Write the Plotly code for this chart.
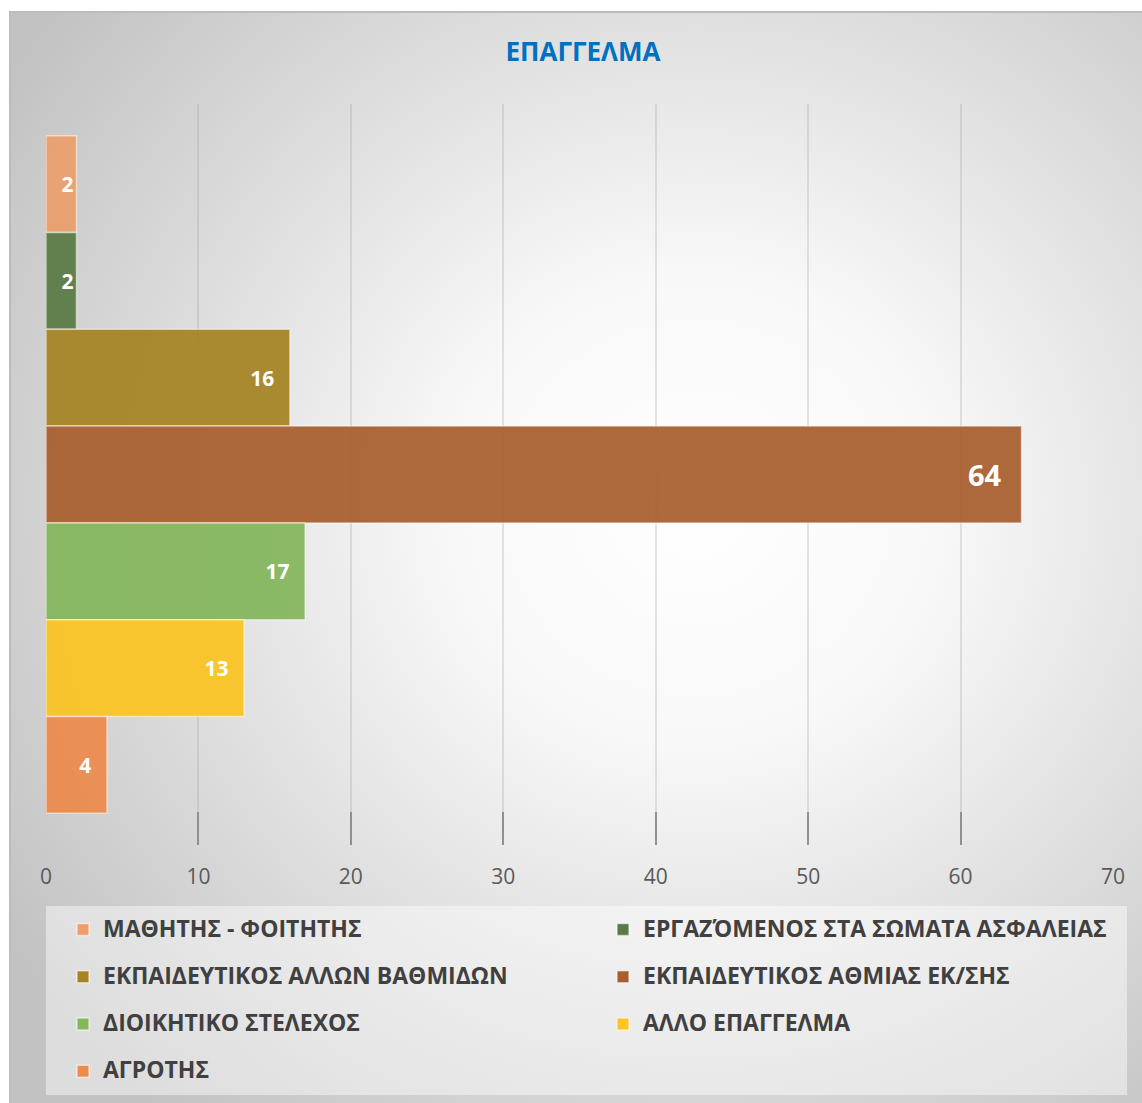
import base64
import plotly.graph_objects as go

# Occupation categories (top to bottom) and their counts
categories = [
    "ΜΑΘΗΤΗΣ - ΦΟΙΤΗΤΗΣ",
    "ΕΡΓΑΖΌΜΕΝΟΣ ΣΤΑ ΣΩΜΑΤΑ ΑΣΦΑΛΕΙΑΣ",
    "ΕΚΠΑΙΔΕΥΤΙΚΟΣ ΑΛΛΩΝ ΒΑΘΜΙΔΩΝ",
    "ΕΚΠΑΙΔΕΥΤΙΚΟΣ ΑΘΜΙΑΣ ΕΚ/ΣΗΣ",
    "ΔΙΟΙΚΗΤΙΚΟ ΣΤΕΛΕΧΟΣ",
    "ΑΛΛΟ ΕΠΑΓΓΕΛΜΑ",
    "ΑΓΡΟΤΗΣ",
]
values = [2, 2, 16, 64, 17, 13, 4]
colors = ["#EC9F6C", "#5A7A45", "#A68424", "#A85E2E", "#84B65C", "#FBC422", "#EC8B4C"]
label_sizes = [21, 21, 21, 29, 21, 21, 21]

x_ticks = [0, 10, 20, 30, 40, 50, 60, 70]
title_text = "ΕΠΑΓΓΕΛΜΑ"

W, H = 1142, 1103
ML, MR, MT, MB = 46, 0, 104, 258
PW, PH = W - ML - MR, H - MT - MB      # paper area
AXW = 1067                              # width of the value axis in px

FONT = "Open Sans"

fig = go.Figure()
for name, v, c, fs in zip(categories, values, colors, label_sizes):
    pad = "\u2002\u200a" if v > 3 else ""
    fig.add_trace(go.Bar(
        y=[0], x=[v], orientation="h",
        name=f'<span style="font-size:23px;baseline-shift:6px"><b>{name}</b></span>',
        marker=dict(color=c, opacity=0.93,
                    line=dict(color="rgba(255,255,255,0.55)", width=1.5)),
        texttemplate="%{x}" + pad,
        textposition="inside", insidetextanchor="end", textangle=0,
        textfont=dict(family=FONT, size=fs, color="white", weight="bold"),
        hoverinfo="skip",
    ))

# Chart background: soft radial gradient with a thin frame (top/left edges)
bg_w, bg_h = W - 9, H - 11
svg = (
    f'<svg xmlns="http://www.w3.org/2000/svg" width="{bg_w}" height="{bg_h}">'
    '<defs><radialGradient id="g" cx="0.6" cy="0.45" r="0.72">'
    '<stop offset="0" stop-color="#ffffff"/>'
    '<stop offset="0.3" stop-color="#f8f8f8"/>'
    '<stop offset="1" stop-color="#c2c2c2"/>'
    '</radialGradient></defs>'
    f'<rect x="1" y="1" width="{bg_w + 10}" height="{bg_h + 10}" fill="url(#g)" '
    'stroke="#bcbcbc" stroke-width="2"/></svg>'
)
bg_src = "data:image/svg+xml;base64," + base64.b64encode(svg.encode()).decode()

fig.add_layout_image(dict(
    source=bg_src, xref="paper", yref="paper",
    x=(9 - ML) / PW, y=(H - MB - 11) / PH,
    sizex=bg_w / PW, sizey=bg_h / PH,
    xanchor="left", yanchor="top", sizing="stretch", layer="below",
))

# Legend panel
fig.add_shape(
    type="rect", xref="paper", yref="paper", layer="below",
    x0=0, x1=(1127 - ML) / PW,
    y0=(H - MB - 1095) / PH, y1=(H - MB - 906) / PH,
    fillcolor="rgba(255,255,255,0.45)", line=dict(width=0),
)

fig.update_layout(
    width=W, height=H,
    margin=dict(l=ML, r=MR, t=MT, b=MB, autoexpand=False),
    paper_bgcolor="white", plot_bgcolor="rgba(0,0,0,0)",
    barmode="group", bargap=0.086, bargroupgap=0,
    title=dict(text=f"<b>{title_text}</b>", x=(583 - ML) / PW, xref="paper",
               xanchor="center", y=1 - 52 / H, yanchor="middle",
               font=dict(family=FONT, size=26, color="#0070C0")),
    xaxis=dict(range=[0, 70], tickvals=x_ticks, domain=[0, AXW / PW],
               showgrid=True, gridcolor="rgba(150,150,150,0.25)", gridwidth=1.5,
               zeroline=False, showline=False,
               ticks="inside", ticklen=33, tickwidth=1.5, tickcolor="#909090",
               tickfont=dict(family=FONT, size=21, color="#595959"),
               ticklabelstandoff=17, fixedrange=True),
    yaxis=dict(autorange="reversed", showticklabels=False, showgrid=False,
               zeroline=False, showline=False, fixedrange=True),
    showlegend=True,
    legend=dict(
        orientation="h", x=(63 - ML) / PW, xanchor="left",
        y=(H - MB - 901) / PH, yanchor="top",
        entrywidth=495, entrywidthmode="pixels",
        bgcolor="rgba(0,0,0,0)",
        font=dict(family=FONT, size=34, color="#404040"),
        traceorder="normal",
    ),
)

fig.write_html("out.html")
